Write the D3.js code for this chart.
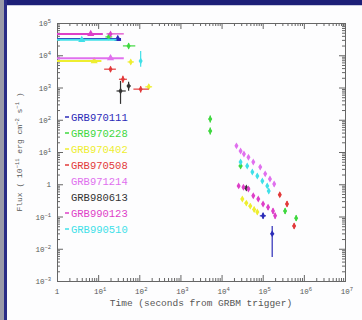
<!DOCTYPE html>
<html>
<head>
<meta charset="utf-8">
<script src="https://cdn.jsdelivr.net/npm/d3@7"></script>
<style>
  html, body { margin: 0; padding: 0; background: #fff; }
  svg { display: block; }
  text { font-family: "Liberation Mono", "DejaVu Sans Mono", monospace; }
</style>
</head>
<body>
<svg id="chart" width="362" height="320"></svg>
<script>
// Each point: [time (s), flux, timeLo, timeHi, fluxLo, fluxHi]; null = no bar
const grb970111 = [
  [30, 3.2e4, 0.3, 36, null, null],
  [1.02e5, 0.105, 8.5e4, 1.2e5, 0.085, 0.13],
  [1.7e5, 0.029, 1.55e5, 1.9e5, 0.0055, 0.051]
];
const grb970228 = [
  [18, 3.7e4, 15, 22, null, null],
  [55, 1.95e4, 40, 80, 1.6e4, 2.4e4],
  [5.3e3, 105, 4.8e3, 5.8e3, 82, 135],
  [5.3e3, 45, 4.8e3, 5.8e3, 35, 58],
  [2.9e4, 3.7, 2.6e4, 3.2e4, 3.1, 4.4],
  [3.5e5, 0.148, 3.2e5, 3.8e5, 0.12, 0.18],
  [6.5e5, 0.089, 6.0e5, 7.0e5, 0.072, 0.11]
];
const grb970402 = [
  [8, 6.6e3, 0.3, 12, null, null],
  [62, 6.2e3, 52, 74, 5.3e3, 7.3e3],
  [170, 1.05e3, 140, 205, 900, 1.25e3],
  [3.2e4, 0.35, 2.9e4, 3.5e4, 0.3, 0.41],
  [4.0e4, 0.26, 3.6e4, 4.4e4, 0.22, 0.3],
  [5.0e4, 0.21, 4.5e4, 5.5e4, 0.18, 0.25],
  [6.2e4, 0.166, 5.6e4, 6.8e4, 0.14, 0.2],
  [7.4e4, 0.138, 6.8e4, 8.0e4, 0.115, 0.16]
];
const grb970508 = [
  [20, 3.7e3, 14, 27, 3.0e3, 4.5e3],
  [40, 1.8e3, 32, 50, 1.4e3, 2.3e3],
  [108, 890, 72, 170, 700, 1.1e3],
  [2.6e5, 0.47, 2.4e5, 2.8e5, 0.4, 0.55],
  [3.9e5, 0.245, 3.6e5, 4.2e5, 0.2, 0.3],
  [5.8e5, 0.051, 5.3e5, 6.3e5, 0.042, 0.062]
];
const grb971214 = [
  [20, 8.1e3, 0.3, 42, null, null],
  [2.3e4, 15.5, 2.15e4, 2.45e4, 13.5, 17.5],
  [2.9e4, 10.7, 2.7e4, 3.1e4, 9.3, 12.2],
  [3.5e4, 8.7, 3.3e4, 3.7e4, 7.6, 9.9],
  [4.5e4, 6.9, 4.2e4, 4.8e4, 6.0, 7.9],
  [5.9e4, 4.9, 5.5e4, 6.3e4, 4.2, 5.6],
  [8.7e4, 3.4, 8.1e4, 9.3e4, 2.9, 3.9],
  [1.15e5, 2.1, 1.07e5, 1.23e5, 1.8, 2.4],
  [1.5e5, 1.45, 1.4e5, 1.6e5, 1.25, 1.7],
  [1.9e5, 1.02, 1.78e5, 2.02e5, 0.85, 1.2]
];
const grb980613 = [
  [35, 780, 28, 47, 310, 1.6e3],
  [55, 1.12e3, 50, 62, 800, 1.5e3],
  [4.0e4, 0.76, 3.3e4, 4.8e4, 0.65, 0.88]
];
const grb990123 = [
  [6.6, 4.6e4, 0.3, 13, null, null],
  [20, 4.6e4, 16, 42, null, null],
  [2.6e4, 0.89, 2.4e4, 2.8e4, 0.78, 1.0],
  [3.4e4, 0.81, 3.2e4, 3.6e4, 0.7, 0.92],
  [4.5e4, 0.71, 4.2e4, 4.8e4, 0.62, 0.8],
  [5.9e4, 0.44, 5.5e4, 6.3e4, 0.38, 0.5],
  [7.8e4, 0.35, 7.3e4, 8.3e4, 0.3, 0.4],
  [1.02e5, 0.245, 9.5e4, 1.09e5, 0.21, 0.28],
  [1.35e5, 0.195, 1.26e5, 1.44e5, 0.16, 0.23],
  [1.78e5, 0.148, 1.68e5, 1.88e5, 0.12, 0.18],
  [2.0e5, 0.105, 1.9e5, 2.1e5, 0.085, 0.13]
];
const grb990510 = [
  [4, 3.0e4, 0.3, 28, null, null],
  [108, 6.6e3, 100, 116, 4.4e3, 1.35e4],
  [2.9e4, 4.9, 2.7e4, 3.1e4, 4.2, 5.6],
  [4.2e4, 3.7, 3.9e4, 4.5e4, 3.2, 4.3],
  [5.6e4, 2.4, 5.2e4, 6.0e4, 2.05, 2.8],
  [7.4e4, 1.8, 6.9e4, 7.9e4, 1.55, 2.1],
  [9.8e4, 1.26, 9.1e4, 1.05e5, 1.08, 1.46],
  [1.29e5, 0.89, 1.2e5, 1.38e5, 0.76, 1.04],
  [1.4e5, 0.62, 1.3e5, 1.5e5, 0.52, 0.74]
];

const grbNames = ["GRB970111", "GRB970228", "GRB970402", "GRB970508",
                  "GRB971214", "GRB980613", "GRB990123", "GRB990510"];
const grbData = [grb970111, grb970228, grb970402, grb970508,
                 grb971214, grb980613, grb990123, grb990510];
const grbColors = ["#2b2bb8", "#3fd83f", "#eeee30", "#e23a3a",
                   "#e070ee", "#333333", "#de3fc8", "#40e0e8"];
// legend entries drawn with a leading dash
const legendDash = [true, true, true, true, false, false, true, true];

const xDecades = d3.range(0, 8);
const yDecades = d3.range(-3, 6);

const svg = d3.select("#chart");

// slide frame
svg.append("rect").attr("width", 362).attr("height", 320).attr("fill", "#fdfdfe");
svg.append("rect").attr("x", 0).attr("y", 0).attr("width", 362).attr("height", 5).attr("fill", "#1d1f78");
svg.append("rect").attr("x", 0).attr("y", 0).attr("width", 4).attr("height", 320).attr("fill", "#9a9aa8");
svg.append("rect").attr("x", 4).attr("y", 0).attr("width", 3).attr("height", 320).attr("fill", "#2a2c86");
svg.append("rect").attr("x", 7).attr("y", 5).attr("width", 355).attr("height", 1).attr("fill", "#c8cae0");

const plotL = 57, plotR = 345, plotT = 23, plotB = 281;

const x = d3.scaleLog().domain([1, 1e7]).range([plotL, plotR]);
const y = d3.scaleLog().domain([1e-3, 1e5]).range([plotB, plotT]);

// axes: major and minor ticks on all four sides, pointing inward
const axisColor = "#666";
const isDecade = v => Math.abs(Math.log10(v) - Math.round(Math.log10(v))) < 1e-6;
const xMajor = xDecades.map(d => Math.pow(10, d));
const yMajor = yDecades.map(d => Math.pow(10, d));
const xMinor = x.ticks().filter(v => !isDecade(v));
const yMinor = y.ticks().filter(v => !isDecade(v));

function drawAxis(axisFn, scale, values, size, transform) {
  const g = svg.append("g")
    .attr("transform", transform)
    .call(axisFn(scale).tickValues(values).tickSize(-size).tickFormat(""));
  g.selectAll("line").attr("stroke", axisColor);
  g.select(".domain").attr("stroke", axisColor);
}
drawAxis(d3.axisBottom, x, xMajor, 6, `translate(0,${plotB})`);
drawAxis(d3.axisBottom, x, xMinor, 3, `translate(0,${plotB})`);
drawAxis(d3.axisTop, x, xMajor, 6, `translate(0,${plotT})`);
drawAxis(d3.axisTop, x, xMinor, 3, `translate(0,${plotT})`);
drawAxis(d3.axisLeft, y, yMajor, 6, `translate(${plotL},0)`);
drawAxis(d3.axisLeft, y, yMinor, 3, `translate(${plotL},0)`);
drawAxis(d3.axisRight, y, yMajor, 6, `translate(${plotR},0)`);
drawAxis(d3.axisRight, y, yMinor, 3, `translate(${plotR},0)`);

// power-of-ten tick labels
function powerLabel(sel, d) {
  if (d === 0) {
    sel.append("tspan").text("1");
  } else {
    sel.append("tspan").text("10");
    sel.append("tspan").attr("dy", -3).attr("font-size", 5.5).text(String(d).replace("-", "\u2212"));
  }
}
svg.append("g").selectAll("text").data(xDecades).join("text")
  .attr("x", d => x(Math.pow(10, d)) + (d === 0 ? 0 : 2))
  .attr("y", plotB + 13)
  .attr("text-anchor", "middle")
  .attr("font-size", 7.5)
  .attr("fill", "#555")
  .each(function(d) { powerLabel(d3.select(this), d); });

svg.append("g").selectAll("text").data(yDecades).join("text")
  .attr("x", plotL - 6)
  .attr("y", d => y(Math.pow(10, d)) + 3)
  .attr("text-anchor", "end")
  .attr("font-size", 7.5)
  .attr("fill", "#555")
  .each(function(d) { powerLabel(d3.select(this), d); });

// axis titles
svg.append("text")
  .attr("x", (plotL + plotR) / 2)
  .attr("y", 306)
  .attr("text-anchor", "middle")
  .attr("font-size", 9.5)
  .attr("fill", "#555")
  .text("Time (seconds from GRBM trigger)");

const yTitle = svg.append("text")
  .attr("transform", `translate(22,${(plotT + plotB) / 2}) rotate(-90)`)
  .attr("text-anchor", "middle")
  .attr("font-size", 8)
  .attr("fill", "#555");
yTitle.append("tspan").text("Flux ( 10");
yTitle.append("tspan").attr("dy", -3).attr("font-size", 5.5).text("\u221211");
yTitle.append("tspan").attr("dy", 3).text(" erg cm");
yTitle.append("tspan").attr("dy", -3).attr("font-size", 5.5).text("\u22122");
yTitle.append("tspan").attr("dy", 3).text(" s");
yTitle.append("tspan").attr("dy", -3).attr("font-size", 5.5).text("\u22121");
yTitle.append("tspan").attr("dy", 3).text(" )");

// data points with error bars, clipped to the plot frame
svg.append("clipPath").attr("id", "plotClip")
  .append("rect").attr("x", plotL).attr("y", plotT).attr("width", plotR - plotL).attr("height", plotB - plotT);
const plot = svg.append("g").attr("clip-path", "url(#plotClip)");

grbData.forEach((series, i) => {
  const g = plot.append("g").attr("stroke", grbColors[i]).attr("fill", grbColors[i]);
  series.forEach(p => {
    const [t, f, tLo, tHi, fLo, fHi] = p;
    const prompt = tLo !== null && tLo < 1;
    if (tLo !== null) {
      g.append("line")
        .attr("x1", x(tLo)).attr("x2", x(tHi))
        .attr("y1", y(f)).attr("y2", y(f))
        .attr("stroke-width", prompt ? 2 : 1.2);
    }
    if (fLo !== null) {
      g.append("line")
        .attr("x1", x(t)).attr("x2", x(t))
        .attr("y1", y(fLo)).attr("y2", y(fHi))
        .attr("stroke-width", 1.2);
    }
    g.append("path")
      .attr("transform", `translate(${x(t)},${y(f)})`)
      .attr("d", d3.symbol(prompt ? d3.symbolTriangle : d3.symbolDiamond, prompt ? 22 : 14)())
      .attr("stroke", "none");
  });
});

// legend
const legendY = d3.scalePoint().domain(grbNames).range([117, 229]);
const legend = svg.append("g").selectAll("g").data(grbNames).join("g")
  .attr("transform", d => `translate(0,${legendY(d)})`);
legend.filter((d, i) => legendDash[i]).append("line")
  .attr("x1", 65).attr("x2", 69).attr("y1", 0).attr("y2", 0)
  .attr("stroke", d => grbColors[grbNames.indexOf(d)])
  .attr("stroke-width", 1.5);
legend.append("text")
  .attr("x", 71)
  .attr("y", 3.5)
  .attr("font-size", 10.5)
  .attr("fill", d => grbColors[grbNames.indexOf(d)])
  .text(d => d);
</script>
</body>
</html>
